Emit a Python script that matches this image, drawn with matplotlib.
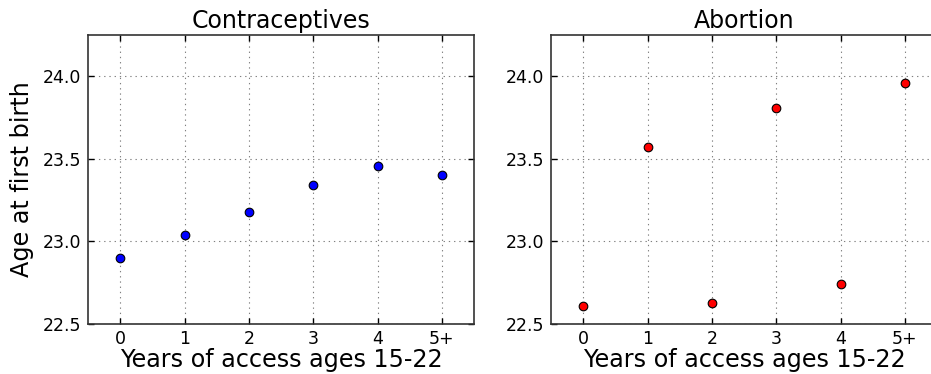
import matplotlib
matplotlib.use("Agg")
import matplotlib.pyplot as plt

categories = ["0", "1", "2", "3", "4", "5+"]
contraceptives = [22.90, 23.04, 23.18, 23.34, 23.456, 23.40]
abortion = [22.61, 23.57, 22.63, 23.81, 22.74, 23.96]
yticks = [22.5, 23.0, 23.5, 24.0]

fig = plt.figure(figsize=(9.31, 3.74), dpi=100)
fig.patch.set_facecolor("white")

ax1 = fig.add_axes([88/931, 1 - 324/374, 386/931, 289/374])
ax2 = fig.add_axes([551/931, 1 - 324/374, 386/931, 289/374])

for ax, vals, col, title in [(ax1, contraceptives, "#0000ff", "Contraceptives"),
                             (ax2, abortion, "#ff0000", "Abortion")]:
    x = list(range(len(categories)))
    ax.plot(x, vals, linestyle="none", marker="o", markersize=6.2,
            markerfacecolor=col, markeredgecolor="black", markeredgewidth=0.8,
            zorder=3)
    ax.set_xlim(-0.5, 5.5)
    ax.set_ylim(22.5, 24.25)
    ax.set_xticks(x)
    ax.set_xticklabels(categories)
    ax.set_yticks(yticks)
    ax.set_yticklabels(["%.1f" % v for v in yticks])
    ax.grid(True, color="0.5", linestyle=(0, (1.2, 3.5)), linewidth=0.8)
    ax.tick_params(direction="in", length=4.5, width=1, top=True, right=True,
                   labelsize=12.5, colors="black")
    ax.tick_params(axis="x", pad=4)
    ax.tick_params(axis="y", pad=5)
    for s in ax.spines.values():
        s.set_color("#333333")
        s.set_linewidth(1.2)
    ax.set_title(title, fontsize=17, pad=5)
    ax.set_xlabel("Years of access ages 15-22", fontsize=17.2, labelpad=0)

ax1.set_ylabel("Age at first birth", fontsize=17.2, labelpad=6)

fig.savefig("out.png", dpi=100, facecolor="white")
